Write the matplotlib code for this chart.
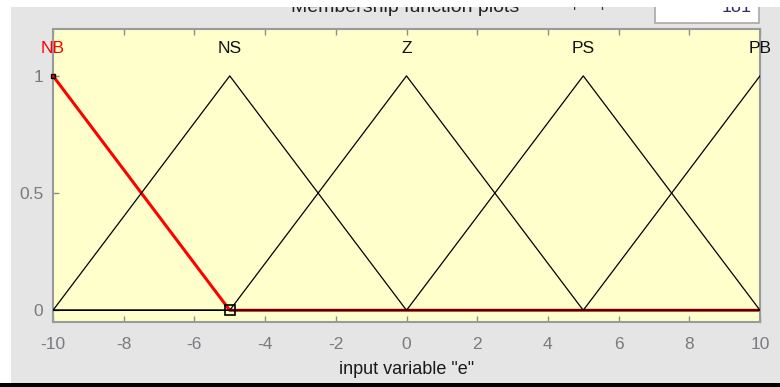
import numpy as np
import matplotlib
matplotlib.use("Agg")
import matplotlib.pyplot as plt
from matplotlib.patches import Rectangle

# Input variable "e": universe, sampling and triangular membership functions
x_range = [-10, 10]
plot_points = 181
mf_names = ["NB", "NS", "Z", "PS", "PB"]
mf_params = [[-15, -10, -5], [-10, -5, 0], [-5, 0, 5], [0, 5, 10], [5, 10, 15]]
selected_mf = 0
x_ticks = [-10, -8, -6, -4, -2, 0, 2, 4, 6, 8, 10]
y_ticks = [0, 0.5, 1]
y_tick_labels = ["0", "0.5", "1"]


def trimf(x, abc):
    a, b, c = abc
    return np.interp(x, [a, b, c], [0.0, 1.0, 0.0], left=0.0, right=0.0)


plt.rcParams["font.family"] = ["Liberation Sans", "DejaVu Sans"]

W, H = 780, 387
fig = plt.figure(figsize=(W / 100, H / 100), dpi=100)
fig.patch.set_facecolor("#e5e5e5")


def px_box(x0, y0, x1, y1):
    """Pixel box (top-left origin) -> figure fraction rectangle."""
    return [x0 / W, 1 - y1 / H, (x1 - x0) / W, (y1 - y0) / H]


ax = fig.add_axes(px_box(53, 29, 760, 322))
ax.set_facecolor("#ffffcc")

xs = np.linspace(x_range[0], x_range[1], plot_points)

# selected curve first (thick red), the others on top in thin black
sel = trimf(xs, mf_params[selected_mf])
ax.plot(xs, sel, color="#ff0000", lw=2.2, zorder=2, solid_joinstyle="miter")
for i, p in enumerate(mf_params):
    if i == selected_mf:
        continue
    ax.plot(xs, trimf(xs, p), color="black", lw=0.9, zorder=3)

# vertex handles of the selected curve
a, b, c = mf_params[selected_mf]
ax.plot([b], [1], marker="s", ms=3.2, mfc="#ff0000", mec="black", mew=1.0,
        zorder=5, clip_on=False)
ax.plot([c], [0], marker="s", ms=7.5, mfc="none", mec="black", mew=1.2,
        zorder=5, clip_on=False)

# curve names above the peaks
for i, (name, p) in enumerate(zip(mf_names, mf_params)):
    ax.text(p[1], 1.115, name, ha="center", va="center", fontsize=12.5,
            color="#ff0000" if i == selected_mf else "#111111",
            clip_on=False, zorder=6)

ax.set_xlim(x_range)
ax.set_ylim(-0.05, 1.2)
ax.set_xticks(x_ticks)
ax.set_xticklabels([str(t) for t in x_ticks])
ax.set_yticks(y_ticks)
ax.set_yticklabels(y_tick_labels)

ax.tick_params(axis="x", direction="in", length=4.5, width=1, color="#8c8c8c",
               top=True, labelsize=12.5, labelcolor="#7a7a80", pad=11)
ax.tick_params(axis="y", direction="in", length=4.5, width=1, color="#8c8c8c",
               right=False, labelsize=12.5, labelcolor="#7a7a80", pad=7)
for s in ax.spines.values():
    s.set_color("#9a9a9a")
    s.set_linewidth(1.5)

ax.set_xlabel('input variable "e"', fontsize=13, color="#1a1a1a")
ax.xaxis.set_label_coords(0.5, -0.162)
ax.xaxis.label.set_va("center")

# panel furniture around the plot
fig.text(405 / W, 1 - 12 / H, "Membership function plots", ha="center",
         va="baseline", fontsize=14, color="#222222")
fig.text(573 / W, 1 - 7.5 / H, "plot points:", ha="left", va="baseline",
         fontsize=10.5, color="#333333")
fig.patches.append(Rectangle((655 / W, 1 - 23 / H), 104 / W, 23 / H,
                             transform=fig.transFigure, facecolor="white",
                             edgecolor="#a8a8a8", lw=1.2, zorder=1))
fig.text(752 / W, 1 - 12 / H, str(plot_points), ha="right", va="baseline",
         fontsize=13, color="#3a2a6a", zorder=2)
fig.patches.append(Rectangle((0, 1 - 7 / H), 1, 7 / H, transform=fig.transFigure,
                             facecolor="white", edgecolor="none", zorder=10))
fig.patches.append(Rectangle((0, 0), 11 / W, 1, transform=fig.transFigure,
                             facecolor="white", edgecolor="none", zorder=10))
fig.patches.append(Rectangle((0, 0), 1, 4 / H, transform=fig.transFigure,
                             facecolor="black", edgecolor="none", zorder=11))

fig.savefig("out.png", dpi=100, facecolor=fig.get_facecolor())
